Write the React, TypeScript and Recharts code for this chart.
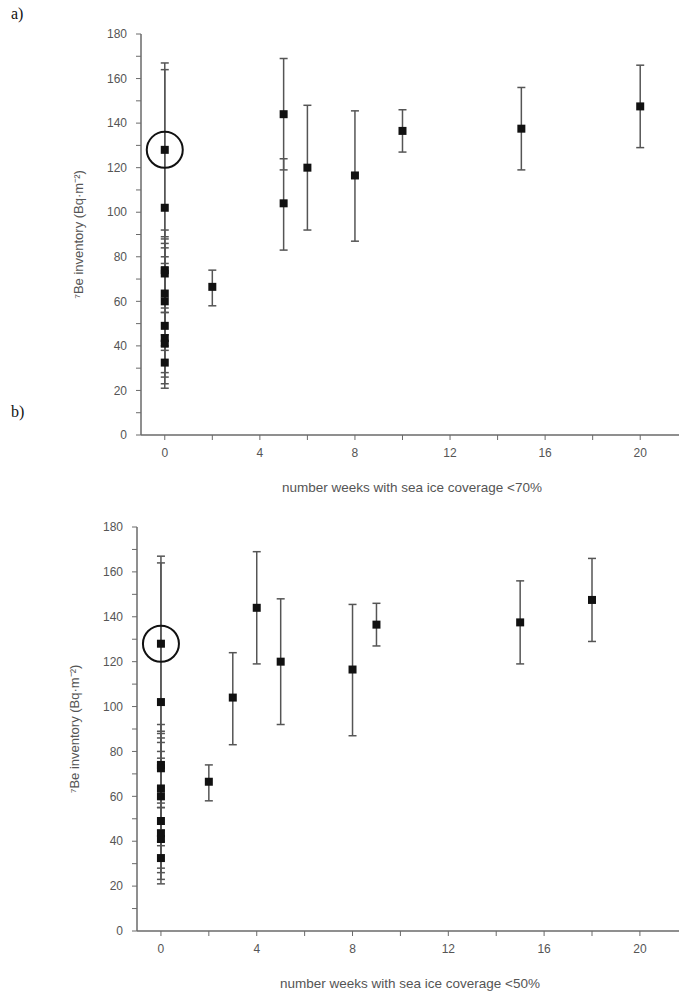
import {
  ScatterChart,
  Scatter,
  XAxis,
  YAxis,
  ZAxis,
  ErrorBar,
  ReferenceDot,
  Label,
} from "recharts";

// samples taken at 0 weeks (same in both panels)
const zeroY = [128, 102, 74, 72.5, 63.5, 60, 49, 43.5, 41, 32.5];
const zeroLow = [89, 40, 55, 57, 38, 45, 28, 26, 23, 21];
const zeroHigh = [167, 164, 92, 88, 86, 84, 77, 80, 75, 55];

// remaining stations
const stationY = [66.5, 144, 104, 120, 116.5, 136.5, 137.5, 147.5];
const stationLow = [58, 119, 83, 92, 87, 127, 119, 129];
const stationHigh = [74, 169, 124, 148, 145.5, 146, 156, 166];
const weeks70 = [2, 5, 5, 6, 8, 10, 15, 20];
const weeks50 = [2, 4, 3, 5, 8, 9, 15, 18];

const xTicks = [0, 2, 4, 6, 8, 10, 12, 14, 16, 18, 20];
const yTicks = [0, 10, 20, 30, 40, 50, 60, 70, 80, 90, 100, 110, 120, 130, 140, 150, 160, 170, 180];
const circled = 128;

const buildRows = (weeks: number[]) => [
  ...zeroY.map((y, i) => ({ x: 0, y, err: [y - zeroLow[i], zeroHigh[i] - y] })),
  ...stationY.map((y, i) => ({
    x: weeks[i],
    y,
    err: [y - stationLow[i], stationHigh[i] - y],
  })),
];

const AXIS = "#6a6a6a";
const TEXT = "#555";
const FONT = "'Liberation Sans', Arial, sans-serif";
const tickStyle = { fill: TEXT, fontSize: 12, fontFamily: FONT };

interface PanelProps {
  weeks: number[];
  title: string;
  top: number;
  plotTop: number;
  axisWidth: number;
  titleX: number;
}

function Panel({ weeks, title, top, plotTop, axisWidth, titleX }: PanelProps) {
  const rows = buildRows(weeks);
  return (
    <div style={{ position: "absolute", left: 0, top }}>
      <ScatterChart
        width={700}
        height={500}
        margin={{ top: plotTop, right: 17, bottom: 0, left: 0 }}
      >
        <XAxis
          xAxisId={0}
          type="number"
          dataKey="x"
          domain={[-1, 21.8]}
          ticks={xTicks}
          allowDataOverflow
          height={65}
          tickSize={5}
          tickMargin={8}
          tick={tickStyle}
          tickFormatter={(v: number) => (v % 4 === 0 ? String(v) : "")}
          axisLine={{ stroke: AXIS, strokeWidth: 1.5 }}
          tickLine={{ stroke: AXIS }}
        >
          <Label
            value={title}
            position="insideBottom"
            offset={8}
            style={{ fill: TEXT, fontSize: 13.5, fontFamily: FONT }}
          />
        </XAxis>
        <XAxis
          xAxisId="top"
          orientation="top"
          type="number"
          dataKey="x"
          domain={[-1, 21.8]}
          ticks={xTicks}
          allowDataOverflow
          height={0}
          mirror
          tickSize={5}
          tickFormatter={() => ""}
          axisLine={{ stroke: AXIS, strokeWidth: 1.5 }}
          tickLine={{ stroke: AXIS }}
        />
        <YAxis
          yAxisId={0}
          type="number"
          dataKey="y"
          domain={[0, 180]}
          ticks={yTicks}
          width={axisWidth}
          tickSize={5}
          tickMargin={9}
          tick={tickStyle}
          tickFormatter={(v: number) => (v % 20 === 0 ? String(v) : "")}
          axisLine={{ stroke: AXIS, strokeWidth: 1.5 }}
          tickLine={{ stroke: AXIS }}
        >
          <Label
            value="⁷Be inventory (Bq·m⁻²)"
            angle={-90}
            position="insideLeft"
            offset={titleX}
            style={{ textAnchor: "middle", fill: TEXT, fontSize: 13, fontFamily: FONT }}
          />
        </YAxis>
        <YAxis
          yAxisId="right"
          orientation="right"
          type="number"
          domain={[0, 180]}
          ticks={yTicks}
          width={0}
          mirror
          tickSize={5}
          tickFormatter={() => ""}
          axisLine={{ stroke: AXIS, strokeWidth: 1.5 }}
          tickLine={{ stroke: AXIS }}
        />
        <ZAxis range={[49, 49]} />
        <Scatter data={rows} fill="#111" shape="square" isAnimationActive={false}>
          <ErrorBar
            dataKey="err"
            direction="y"
            width={4}
            stroke="#555"
            strokeWidth={1.5}
            isAnimationActive={false}
          />
        </Scatter>
        <ReferenceDot x={0} y={circled} r={18} fill="none" stroke="#111" strokeWidth={2} />
      </ScatterChart>
    </div>
  );
}

export default function App() {
  const letter = {
    position: "absolute" as const,
    left: 11,
    fontFamily: "'Liberation Serif', 'Times New Roman', serif",
    fontSize: 16,
    color: "#111",
  };
  return (
    <div
      style={{
        position: "absolute",
        left: 0,
        top: 0,
        width: 679,
        height: 996,
        overflow: "hidden",
        background: "#fff",
      }}
    >
      <div style={{ ...letter, top: 5 }}>a)</div>
      <div style={{ ...letter, top: 403 }}>b)</div>
      <Panel
        weeks={weeks70}
        title="number weeks with sea ice coverage <70%"
        top={0}
        plotTop={34}
        axisWidth={141}
        titleX={78}
      />
      <Panel
        weeks={weeks50}
        title="number weeks with sea ice coverage <50%"
        top={496}
        plotTop={31}
        axisWidth={137}
        titleX={74}
      />
    </div>
  );
}
